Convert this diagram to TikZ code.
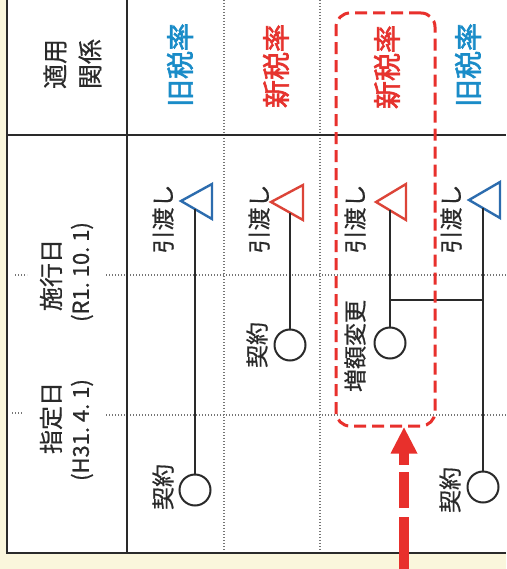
\documentclass[tikz,border=0pt]{standalone}
\usepackage{fontspec}
\setmainfont[FakeBold=0.6]{Noto Sans CJK JP}
\newfontfamily\jpreg[FakeBold=0.6]{Noto Sans CJK JP}
\newfontfamily\jpbold[FakeBold=2.2]{Noto Sans CJK JP}
\usetikzlibrary{arrows.meta}
\definecolor{cream}{HTML}{FAF6DC}
\definecolor{tblue}{HTML}{1A8CC8}
\definecolor{triblue}{HTML}{2C6CAE}
\definecolor{tred}{HTML}{E6332E}
\definecolor{trired}{HTML}{DC4438}
\definecolor{boxred}{HTML}{E8302C}
\definecolor{ink}{HTML}{2A2A2A}
\begin{document}
\begin{tikzpicture}[x=1pt,y=-1pt,
  tline/.style={draw=ink,line width=1.4pt},
  dotline/.style={draw=ink!65,line width=1.1pt,dash pattern=on 1pt off 2pt},
  hdr/.style={rotate=90,font=\fontsize{25}{25}\selectfont\jpreg,text=ink,inner sep=0pt},
  rate/.style={rotate=90,font=\fontsize{28}{28}\selectfont\jpbold,inner sep=0pt},
  lbl/.style={rotate=90,font=\fontsize{23}{23}\selectfont\jpreg,text=ink,inner sep=0pt},
  tri/.style={line width=2.4pt,line join=miter},
  conn/.style={draw=ink,line width=2pt},
  circ/.style={circle,draw=ink,line width=2pt,minimum size=31pt,inner sep=0pt,fill=white}]
\useasboundingbox (0,0) rectangle (506,569);
\fill[cream] (0,0) rectangle (506,569);
\fill[white] (7,0) rectangle (506,553);
% dotted grid lines
\draw[dotline] (224,0) -- (224,553);
\draw[dotline] (320,0) -- (320,553);
\draw[dotline] (15,275) -- (27,275);
\draw[dotline] (106,275) -- (506,275);
\draw[dotline] (12,413) -- (22,413);
\draw[dotline] (106,415) -- (506,415);
% solid table lines
\draw[tline] (7,0) -- (7,553) -- (506,553);
\draw[tline] (127,0) -- (127,553);
\draw[tline] (7,135) -- (506,135);
% header column
\node[hdr] (h1) at (55,64) {適用};
\node[hdr] (h2) at (90,64) {関係};
\node[hdr,font=\fontsize{24}{24}\selectfont\jpreg] (d1) at (51,275) {施行日};
\node[hdr,font=\fontsize{22}{22}\selectfont\jpreg] (d1b) at (82,272) {(R1.\ 10.\ 1)};
\node[hdr,font=\fontsize{24}{24}\selectfont\jpreg] (d2) at (51,418) {指定日};
\node[hdr,font=\fontsize{22}{22}\selectfont\jpreg] (d2b) at (82,430) {(H31.\ 4.\ 1)};
% tax rate labels
\node[rate,text=tblue] (r1) at (180,65) {旧税率};
\node[rate,text=tred] (r2) at (276,66) {新税率};
\node[rate,text=tred] (r3) at (387,67) {新税率};
\node[rate,text=tblue] (r4) at (468,65) {旧税率};
% triangles (delivery)
\draw[tri,draw=triblue] (181,201) -- (212,184) -- (212,219) -- cycle;
\draw[tri,draw=trired] (271,202) -- (303,185) -- (303,220) -- cycle;
\draw[tri,draw=trired] (376,202) -- (406,184) -- (406,220) -- cycle;
\draw[tri,draw=triblue] (469,200) -- (500,182) -- (500,218) -- cycle;
\coordinate (t1) at (195,209);
\coordinate (t2) at (290,212.5);
\coordinate (t3) at (390,210);
\coordinate (t4) at (483,208);
% circles (contract)
\node[circ] (c1) at (195,490) {};
\node[circ] (c2) at (290,345) {};
\node[circ] (c3) at (390,343) {};
\node[circ] (c4) at (483,487) {};
% connectors
\draw[conn] (c1.north) -- (t1);
\draw[conn] (c2.north) -- (t2);
\draw[conn] (c3.north) -- (t3);
\draw[conn] (c4.north) -- (t4);
\draw[conn] (c3.north |- 0,300) -- (c4.north |- 0,300);
% labels
\node[lbl] (l1) at (163,219) {引渡し};
\node[lbl] (l2) at (259,219) {引渡し};
\node[lbl] (l3) at (355,219) {引渡し};
\node[lbl] (l4) at (451,219) {引渡し};
\node[lbl] (k1) at (163,487) {契約};
\node[lbl] (k2) at (257,345) {契約};
\node[lbl] (k3) at (355,346) {増額変更};
\node[lbl] (k4) at (450,490) {契約};
% red dashed box
\node[draw=boxred,line width=3pt,dash pattern=on 12pt off 6pt,rounded corners=14pt,
  minimum width=99pt,minimum height=413pt,inner sep=0pt] (box) at (385.5,219.5) {};
% red arrow: dashed shaft and solid head
\coordinate (foot) at (404,569);
\coordinate (hb) at (404,452);
\draw[draw=boxred,line width=10pt,dash pattern=on 13pt off 7pt on 36pt off 9pt on 80pt] (hb) -- (foot);
\fill[boxred] (foot |- box.south) -- ++(-13.5,26) -- ++(27,0) -- cycle;
\end{tikzpicture}
\end{document}
